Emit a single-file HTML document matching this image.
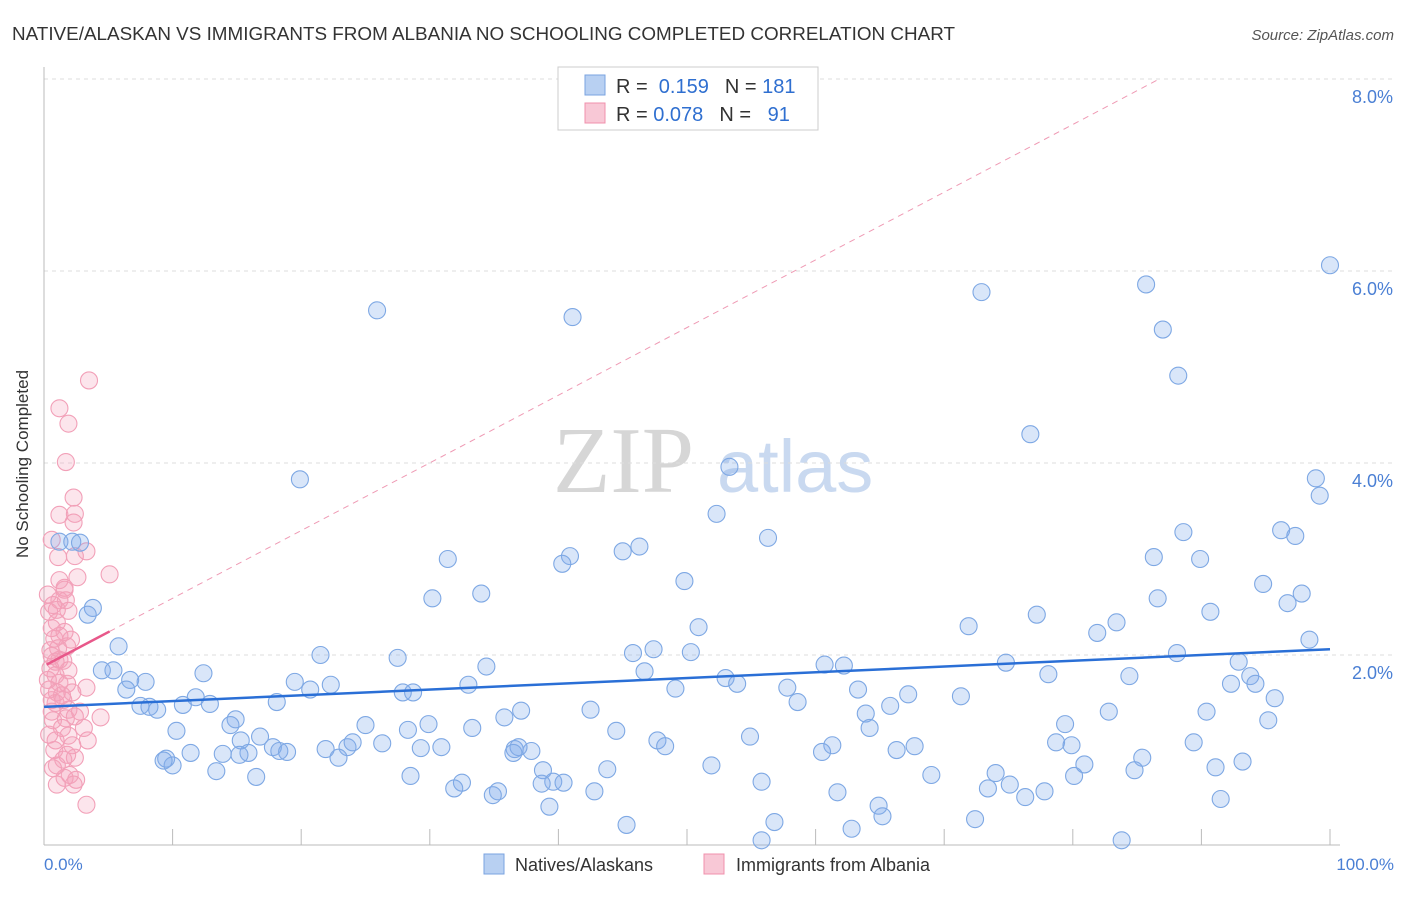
<!DOCTYPE html>
<html><head><meta charset="utf-8"><style>
body{margin:0;background:#fff;font-family:"Liberation Sans",sans-serif}
</style></head><body>
<svg width="1406" height="892" viewBox="0 0 1406 892" font-family="Liberation Sans, sans-serif">
<text x="12" y="40" font-size="18" fill="#333" textLength="943" lengthAdjust="spacingAndGlyphs">NATIVE/ALASKAN VS IMMIGRANTS FROM ALBANIA NO SCHOOLING COMPLETED CORRELATION CHART</text>
<text x="1394" y="40" font-size="15" fill="#555" font-style="italic" text-anchor="end">Source: ZipAtlas.com</text>
<g>
<text x="553" y="492" font-size="94" fill="#d6d6d6" style="font-family:'Liberation Serif',serif">ZIP</text>
<text x="717" y="492" font-size="74" fill="#c9d9f0">atlas</text>
</g>
<g id="grid"></g>
<line x1="44" y1="67" x2="44" y2="845" stroke="#bbb"/>
<line x1="44" y1="845" x2="1340" y2="845" stroke="#bbb"/>
<g id="ticks"></g>
<text x="20" y="456" font-size="17" fill="#333" text-anchor="middle" transform="rotate(-90 28 456)">No Schooling Completed</text>
<text x="44" y="870" font-size="17" fill="#4a7fd4">0.0%</text>
<text x="1394" y="870" font-size="17" fill="#4a7fd4" text-anchor="end">100.0%</text>
<g id="pink"></g><g id="blue"></g><g id="lines"></g>
<g>
<rect x="558" y="67" width="260" height="63" fill="#fff" stroke="#ccc"/>
<rect x="585" y="75" width="20" height="20" fill="#b8d0f2" stroke="#7aa3e0"/>
<rect x="585" y="103" width="20" height="20" fill="#f8c8d6" stroke="#f090ac"/>
<text x="616" y="93" font-size="20" fill="#333">R = <tspan fill="#2f6fd0">&#160;0.159</tspan><tspan dx="16">N = </tspan><tspan fill="#2f6fd0">181</tspan></text>
<text x="616" y="121" font-size="20" fill="#333">R = <tspan fill="#2f6fd0">0.078</tspan><tspan dx="16">N = </tspan><tspan fill="#2f6fd0">&#160;&#160;91</tspan></text>
</g>
<g>
<rect x="484" y="854" width="20" height="20" fill="#b8d0f2" stroke="#7aa3e0"/>
<text x="515" y="871" font-size="18" fill="#333">Natives/Alaskans</text>
<rect x="704" y="854" width="20" height="20" fill="#f8c8d6" stroke="#f090ac"/>
<text x="736" y="871" font-size="18" fill="#333">Immigrants from Albania</text>
</g>
</svg>
<script>
const yTicks=[2,4,6,8];
const yTickLabels=["2.0%","4.0%","6.0%","8.0%"];
const xTicks=[10,20,30,40,50,60,70,80,90,100];
const blueX=[100.0,25.9,41.1,72.9,85.7,87.0,88.2,76.7,19.9,53.3,98.9,99.2,52.3,56.3,88.6,96.2,97.3,1.2,2.2,2.8,31.4,40.9,40.3,45.0,46.3,86.3,89.9,49.8,94.8,30.2,34.0,86.6,97.8,96.7,3.8,3.4,90.7,50.9,77.2,71.9,83.4,81.9,98.4,5.8,88.1,47.4,45.8,50.3,21.5,27.5,4.5,5.4,34.4,12.4,46.7,60.7,62.2,74.8,92.9,78.1,84.4,93.8,94.2,92.3,19.5,7.9,6.7,6.4,22.3,20.7,33.0,27.9,28.7,49.1,53.0,53.9,57.8,63.3,67.2,95.7,71.3,11.8,7.5,8.2,8.8,10.8,12.9,18.1,42.5,37.1,35.8,58.6,63.9,65.8,82.8,90.4,14.9,14.5,25.0,29.9,33.3,79.4,95.2,10.3,44.5,64.2,28.3,78.7,79.9,89.4,54.9,47.7,48.3,15.3,16.8,17.8,15.9,21.9,23.6,24.0,26.3,29.3,30.9,36.6,37.9,11.4,13.9,18.3,18.9,15.2,36.9,61.3,60.5,66.3,67.7,9.5,10.0,22.9,9.3,36.5,38.8,39.6,40.4,38.7,51.9,80.9,85.4,84.8,91.1,93.2,13.4,16.5,28.5,43.8,69.0,74.0,80.1,32.5,31.9,35.3,34.9,42.8,55.8,75.1,77.8,73.4,76.3,91.5,61.7,64.9,65.2,39.3,56.8,45.3,62.8,72.4,55.8,83.8];
const blueY=[6.06,5.59,5.52,5.78,5.86,5.39,4.91,4.30,3.83,3.96,3.84,3.66,3.47,3.22,3.28,3.30,3.24,3.18,3.18,3.17,3.00,3.03,2.95,3.08,3.13,3.02,3.00,2.77,2.74,2.59,2.64,2.59,2.64,2.54,2.49,2.42,2.45,2.29,2.42,2.30,2.34,2.23,2.16,2.09,2.02,2.06,2.02,2.03,2.00,1.97,1.84,1.84,1.88,1.81,1.83,1.90,1.89,1.92,1.93,1.80,1.78,1.78,1.70,1.70,1.72,1.72,1.74,1.64,1.69,1.64,1.69,1.61,1.61,1.65,1.76,1.70,1.66,1.64,1.59,1.55,1.57,1.56,1.47,1.46,1.43,1.48,1.49,1.51,1.43,1.42,1.35,1.51,1.39,1.47,1.41,1.41,1.33,1.27,1.27,1.28,1.24,1.28,1.32,1.21,1.21,1.24,1.22,1.09,1.06,1.09,1.15,1.11,1.05,1.11,1.15,1.04,0.98,1.02,1.04,1.09,1.08,1.03,1.04,1.02,1.00,0.98,0.97,1.00,0.99,0.96,1.04,1.06,0.99,1.01,1.05,0.92,0.85,0.93,0.90,0.98,0.80,0.68,0.67,0.66,0.85,0.86,0.93,0.80,0.83,0.89,0.79,0.73,0.74,0.81,0.75,0.77,0.74,0.67,0.61,0.58,0.54,0.58,0.68,0.65,0.58,0.61,0.52,0.50,0.57,0.43,0.32,0.42,0.26,0.23,0.19,0.29,0.07,0.07];
const pinkX=[3.5,1.2,1.9,1.7,2.3,1.2,2.4,2.3,0.6,1.1,2.4,3.3,2.6,5.1,1.6,1.2,1.7,1.0,0.4,0.7,1.9,1.0,1.2,0.8,1.6,0.5,1.1,1.8,1.5,0.6,1.2,1.9,0.5,0.9,1.2,1.8,3.3,0.4,1.0,2.2,1.5,0.9,1.9,0.6,1.7,2.4,0.7,2.8,1.4,0.4,1.9,4.4,2.2,3.4,0.8,1.8,1.0,2.4,0.7,2.0,1.6,2.5,1.0,2.3,3.3,1.5,3.1,0.9,1.2,0.3,1.6,0.6,2.1,0.9,0.3,1.4,0.6];
const pinkY=[4.86,4.57,4.41,4.01,3.64,3.46,3.47,3.38,3.20,3.02,3.03,3.08,2.81,2.84,2.70,2.57,2.57,2.47,2.45,2.52,2.46,2.34,2.20,2.17,2.24,2.05,2.07,2.09,1.94,1.99,1.95,1.84,1.86,1.79,1.71,1.70,1.66,1.64,1.61,1.61,1.53,1.50,1.43,1.41,1.34,1.36,1.32,1.41,1.24,1.17,1.16,1.35,1.06,1.11,1.01,0.96,0.85,0.93,0.82,0.75,0.72,0.70,0.65,0.65,0.44,0.91,1.24,1.11,2.78,2.63,2.68,2.28,2.16,1.93,1.74,1.58,1.53];
const blueTrend=[1.46,2.06];
const pinkTrend=[1.886,0.0705];
const pinkSolidEnd=5.1;

const NS="http://www.w3.org/2000/svg";
const sx=v=>44+v*12.86, sy=v=>847-v*96;
function mk(t,a,p){const e=document.createElementNS(NS,t);for(const k in a)e.setAttribute(k,a[k]);p.appendChild(e);return e;}
const grid=document.getElementById('grid');
yTicks.forEach((t,i)=>{
 const l=mk('line',{x1:44,x2:1393,y1:sy(t),y2:sy(t),stroke:'#ddd','stroke-dasharray':'4,4'},grid);
 
 
 const tx=mk('text',{x:1393,y:sy(t)+24,'font-size':18,fill:'#4a7fd4','text-anchor':'end'},grid);
 tx.textContent=yTickLabels[i];
 
 
});
const tk=document.getElementById('ticks');
xTicks.forEach(t=>{
 const l=mk('line',{x1:sx(t),x2:sx(t),y1:829,y2:845,stroke:'#bbb'},tk);
 
 
});
function pts(X,Y,g,fill,stroke,name){
 X.forEach((x,i)=>{
  const c=mk('circle',{cx:sx(x),cy:sy(Y[i]),r:8.5,fill:fill,stroke:stroke,'stroke-width':1.1},g);
  
  
 });
}
pts(pinkX,pinkY,document.getElementById('pink'),'rgba(244,160,185,0.28)','#f2a0b8','albania-point');
pts(blueX,blueY,document.getElementById('blue'),'rgba(130,172,235,0.3)','#7ea8e4','natives-point');
const L=document.getElementById('lines');
const pd=mk('line',{x1:sx(pinkSolidEnd),y1:sy(pinkTrend[0]+pinkTrend[1]*pinkSolidEnd),x2:sx((8-pinkTrend[0])/pinkTrend[1]),y2:sy(8),stroke:'#ef9ab4','stroke-dasharray':'6,5','stroke-width':1},L);


const ps=mk('line',{x1:sx(0.2),y1:sy(pinkTrend[0]+pinkTrend[1]*0.2),x2:sx(pinkSolidEnd),y2:sy(pinkTrend[0]+pinkTrend[1]*pinkSolidEnd),stroke:'#e8588a','stroke-width':2.5},L);


const bl=mk('line',{x1:sx(0),y1:sy(blueTrend[0]),x2:sx(100),y2:sy(blueTrend[1]),stroke:'#2a6fd6','stroke-width':2.5},L);


</script>
</body></html>
